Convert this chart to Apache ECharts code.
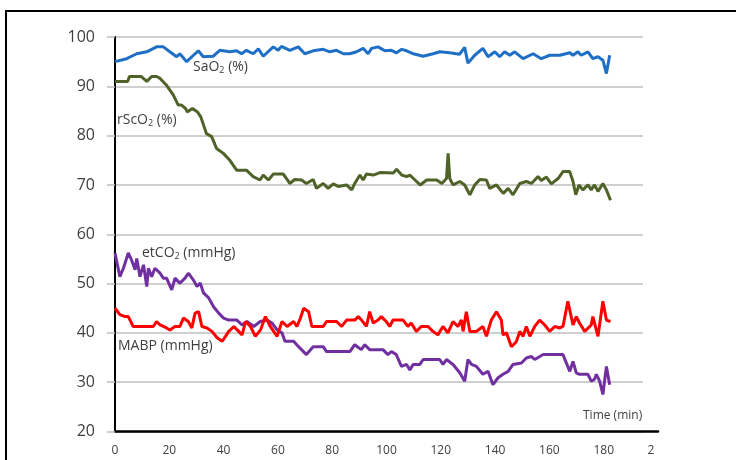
<!DOCTYPE html>
<html>
<head>
<meta charset="utf-8">
<script src="https://cdn.jsdelivr.net/npm/echarts@6/dist/echarts.min.js"></script>
<style>
  html, body { margin: 0; padding: 0; background: #fff; }
  #chart { width: 736px; height: 460px; }
</style>
</head>
<body>
<div id="chart"></div>
<script>
// Intra-operative monitoring over time: [minute, value]
const sao2 = [[0,95],[4.3,95.6],[8,96.6],[11.7,97],[15.3,98],[17.8,98],[20.2,97],[22.7,96],[23.9,96.6],[26.4,95],[28.9,96.3],[30.7,97.2],[32.5,96],[36.2,96.1],[38.6,97.3],[42.3,97],[44.8,97.2],[46.6,96.6],[48.4,97.3],[50.9,96.6],[52.8,97.6],[54.6,96.1],[58.3,98],[60.1,97.3],[61.3,98.1],[64.4,97.3],[67.5,98],[69.9,96.6],[73,97.2],[76.7,97.5],[79.1,97],[81.6,97.3],[84.1,96.6],[86.5,96.6],[89,97],[91.4,97.7],[93.2,96.6],[94.5,97.7],[96.9,98],[99.4,97.2],[101.8,97.3],[103.7,96.8],[105.6,97.5],[107.4,97.2],[109.9,96.6],[113.5,96.1],[117.2,96.6],[119.6,97],[123.3,96.8],[126.9,96.5],[128.8,97.9],[130,94.7],[132.5,96.3],[135.5,97.7],[137.4,96],[139.9,97],[141.7,96],[143.5,97],[145.4,96.3],[147.2,97],[150.3,95.6],[154,96.6],[157,95.6],[160.1,96.3],[163.8,96.3],[167.5,96.8],[168.7,96.3],[170.5,97],[171.7,96.3],[174.2,97],[176,95.6],[177.9,96],[179.7,95.3],[181,92.6],[182.2,96.3]];

const rsco2 = [[0,91],[4.7,91],[5.3,92],[9.6,92],[11.7,91],[13.5,92],[15.3,92],[16.6,91.6],[19,90.2],[21.5,88.2],[23.3,86.2],[24.5,86.2],[26,85.5],[26.6,84.8],[28.5,85.5],[30.4,84.8],[31.6,83.8],[33.7,80.4],[35.6,79.8],[37.4,77.4],[39.9,76.4],[42.3,75],[44.8,73],[48.4,73],[50.9,71.7],[53.4,71],[54.6,72],[56.5,71],[58.3,72.2],[62,72.2],[64.4,70.3],[66.2,71.1],[68.7,71],[70.5,70.3],[73,71.1],[74.2,69.3],[76.7,70.3],[78.5,69.3],[80.4,70.2],[82.2,69.7],[85.3,70],[87.2,69],[88.3,70.3],[90.2,72],[91.4,71],[92.6,72.2],[95.1,72],[97.6,72.5],[102.5,72.4],[103.7,73.2],[105.6,72],[107.4,71.7],[108.6,72],[110.5,71],[112.4,70],[114.8,71],[118.5,71],[120.4,70.3],[122.1,71.3],[122.7,76.4],[123.3,71.3],[124.5,70],[127,70.7],[128.8,70],[130.7,68],[132.5,70],[134.4,71.1],[136.8,71],[138,69.3],[140.5,70],[143,68.3],[144.8,69.3],[146.6,68],[149.1,70.3],[151.5,70.7],[153.4,70.3],[155.8,71.7],[157,70.9],[158.9,71.6],[160.7,70.2],[163.2,71.3],[165,72.7],[167.5,72.7],[168.7,70.7],[169.7,68],[170.9,70],[172.3,69],[174.2,70],[175.4,69],[176.6,70],[177.9,68.7],[179.7,70.3],[181,69],[182.5,66.9]];

const etco2 = [[0,56.2],[1.8,51.4],[3.1,53.1],[4.9,56.2],[6.1,54.8],[7.4,52.8],[8,55.1],[9.2,51.4],[10.5,53.8],[11.7,49.4],[12.3,53.1],[13.5,51.4],[14.7,53.1],[16.6,52.1],[17.8,51.1],[19,51.1],[20.9,48.7],[22.1,51.1],[23.9,50.1],[25.8,51.1],[27,52.1],[28.9,50.7],[30.2,49.4],[31.4,50.1],[32.6,48.1],[34.5,47.1],[36.3,45.3],[38.2,44],[40,43],[41.9,42.6],[44.9,42.6],[46.8,41.6],[48.6,42.3],[51.1,41.3],[53.5,42.3],[56,42.6],[57.8,42],[59.7,40.6],[61.5,40],[62.6,38.3],[65.8,38.3],[67.6,37.2],[70.5,35.6],[73,37.2],[76.7,37.2],[77.9,36.2],[86.5,36.2],[88.3,37.6],[90.7,36.6],[92,37.6],[93.8,36.6],[98.7,36.6],[100.5,35.6],[101.8,36.2],[103.6,35.6],[105.5,33.2],[107.4,33.6],[108.6,32.5],[109.8,33.6],[112.3,33.6],[113.5,34.6],[119.6,34.6],[120.8,33.6],[122.1,34.6],[124.5,33.6],[127,31.9],[128.8,30.2],[130,34.6],[131.3,33.6],[133.1,33.2],[135.5,31.6],[137.4,32.2],[139.2,29.5],[141.1,30.9],[142.9,31.6],[144.8,32.2],[146.6,33.6],[149.7,33.9],[151.5,34.9],[153.4,35.2],[154.6,34.6],[157.7,35.6],[165,35.6],[167.5,32.2],[168.7,34.2],[169.9,31.9],[171.1,31.6],[174.2,31.6],[175.4,30.2],[176.6,30.6],[177.3,31.6],[178.5,30.2],[179.7,27.5],[181,33.2],[182.2,29.5]];

const mabp = [[0,45],[1.8,43.7],[3.7,43.3],[4.9,43.3],[6.7,41.3],[14.1,41.3],[15.3,42.3],[16.6,41.6],[19,41],[20.2,40.6],[22.1,41.3],[23.9,41.3],[25.2,43],[27,42.3],[28.3,41],[29.5,44],[30.8,44.3],[32,41.3],[33.9,41],[35.7,40.3],[37.6,39],[39.5,38.3],[40.7,39.3],[41.9,40.3],[43.8,41.3],[45,40.6],[46.8,39.6],[48.1,42.3],[49.9,41.3],[51.7,39.3],[53.6,40.6],[55.4,43.3],[57.2,41.3],[59.7,39.3],[61.5,42.3],[63.4,41.3],[65.8,42.3],[67,41.3],[68.3,43],[69.5,45],[71.3,44.3],[72.5,41.3],[76.7,41.3],[77.9,42.3],[81.6,42.3],[83.5,41.3],[85.3,42.6],[88.3,42.6],[89.6,43.3],[90.8,42.6],[92.6,41.3],[93.8,44.3],[95.1,42],[96.9,42.6],[98.1,43.3],[99.9,42.3],[101.2,41.3],[102.4,42.6],[106.1,42.6],[107.9,41.3],[109.1,42],[111,40.3],[112.8,41.3],[115.3,41.3],[117.1,40.3],[118.9,39.6],[120.8,41.3],[122.6,40],[124.5,42.3],[126.3,41.3],[127.6,42.6],[128.2,40.3],[129.4,44.3],[130.7,40.3],[133.1,40.3],[135.5,41.3],[136.8,39.3],[138.6,42.6],[140.5,44.3],[142.3,42.6],[142.9,39.6],[144.2,40],[146,37.2],[147.8,38.2],[149.1,40.3],[150.3,39.3],[151.5,41.3],[152.8,39.3],[154.6,41.3],[156.4,42.6],[158.3,41.6],[160.1,40.3],[162,41.3],[163.8,41],[165,41.3],[166.8,46.4],[168.7,41.6],[169.9,43.3],[171.1,42],[173,40.3],[175.4,41.6],[176,43.3],[177.9,39.3],[179.7,46.4],[181,42.6],[182.5,42.3]];

// Axis ticks
const yTicks = [20, 30, 40, 50, 60, 70, 80, 90, 100];
const timeTicks = [0, 20, 40, 60, 80, 100, 120, 140, 160, 180, 200];
const timeTickLabels = ['0', '20', '40', '60', '80', '100', '120', '140', '160', '180', '2'];

const FONT = '"Open Sans", "Liberation Sans", sans-serif';
const TEXT = '#404040';

const chart = echarts.init(document.getElementById('chart'), null, { renderer: 'canvas' });

function seriesLabel(main, sub, tail) {
  return {
    text: '{m|' + main + '}{s|' + sub + '}{m|' + tail + '}',
    rich: {
      m: { fontSize: 14, fontFamily: FONT, fill: TEXT, color: TEXT },
      s: { fontSize: 9, fontFamily: FONT, fill: TEXT, color: TEXT, padding: [7, 0, 0, 0] }
    }
  };
}

chart.setOption({
  animation: false,
  backgroundColor: '#fff',
  grid: [
    // value grid carrying the horizontal reference lines
    { left: 115, top: 37, width: 528, bottom: 28.5 },
    // time grid carrying the curves and the time axis
    { left: 115, top: 37, width: 543, bottom: 28.5 }
  ],
  xAxis: [
    { gridIndex: 0, type: 'value', min: 0, max: 1, show: false },
    {
      gridIndex: 1, type: 'value', min: timeTicks[0], max: timeTicks[timeTicks.length - 1], interval: 20,
      axisLine: { show: true, onZero: false, lineStyle: { color: '#000', width: 2.5 } },
      axisTick: { show: false },
      splitLine: { show: false },
      axisLabel: {
        margin: 13, fontSize: 12, fontFamily: FONT, color: TEXT,
        formatter: function (v) {
          const i = timeTicks.indexOf(v);
          const s = i >= 0 ? timeTickLabels[i] : '';
          return v === 200 ? '{cut|' + s + '}' : s;
        },
        rich: { cut: { fontSize: 12, fontFamily: FONT, color: TEXT, padding: [0, 14, 0, 0] } }
      }
    }
  ],
  yAxis: [
    {
      gridIndex: 0, type: 'value', min: yTicks[0], max: yTicks[yTicks.length - 1], interval: 10,
      axisLine: { show: true, onZero: false, lineStyle: { color: '#000', width: 2 } },
      axisTick: { show: true, length: 8, lineStyle: { color: '#bfbfbf', width: 1.5 } },
      splitLine: { show: true, lineStyle: { color: '#bfbfbf', width: 1.5 } },
      axisLabel: { margin: 20, fontSize: 16, fontFamily: FONT, color: TEXT }
    },
    { gridIndex: 1, type: 'value', min: yTicks[0], max: yTicks[yTicks.length - 1], show: false }
  ],
  series: [
    { name: 'SaO2', type: 'line', xAxisIndex: 1, yAxisIndex: 1, data: sao2, showSymbol: false, lineStyle: { color: '#1f6fc6', width: 3 }, itemStyle: { color: '#1f6fc6' } },
    { name: 'rScO2', type: 'line', xAxisIndex: 1, yAxisIndex: 1, data: rsco2, showSymbol: false, lineStyle: { color: '#4f6228', width: 3 }, itemStyle: { color: '#4f6228' } },
    { name: 'etCO2', type: 'line', xAxisIndex: 1, yAxisIndex: 1, data: etco2, showSymbol: false, lineStyle: { color: '#7030a0', width: 3 }, itemStyle: { color: '#7030a0' } },
    { name: 'MABP', type: 'line', xAxisIndex: 1, yAxisIndex: 1, data: mabp, showSymbol: false, lineStyle: { color: '#ff0000', width: 3 }, itemStyle: { color: '#ff0000' } }
  ],
  graphic: [
    { type: 'rect', z: 100, shape: { x: 6, y: 11, width: 760, height: 480 }, style: { fill: 'none', stroke: '#000', lineWidth: 2 } },
    { type: 'text', z: 100, left: 193, top: 60, style: seriesLabel('SaO', '2', ' (%)') },
    { type: 'text', z: 100, left: 117, top: 113, style: seriesLabel('rScO', '2', ' (%)') },
    { type: 'text', z: 100, left: 142, top: 246, style: seriesLabel('etCO', '2', ' (mmHg)') },
    { type: 'text', z: 100, left: 118, top: 339, style: { text: 'MABP (mmHg)', fontSize: 14, fontFamily: FONT, fill: TEXT } },
    { type: 'text', z: 100, left: 583, top: 410, style: { text: 'Time (min)', fontSize: 12, fontFamily: FONT, fill: TEXT } }
  ]
});
</script>
</body>
</html>
